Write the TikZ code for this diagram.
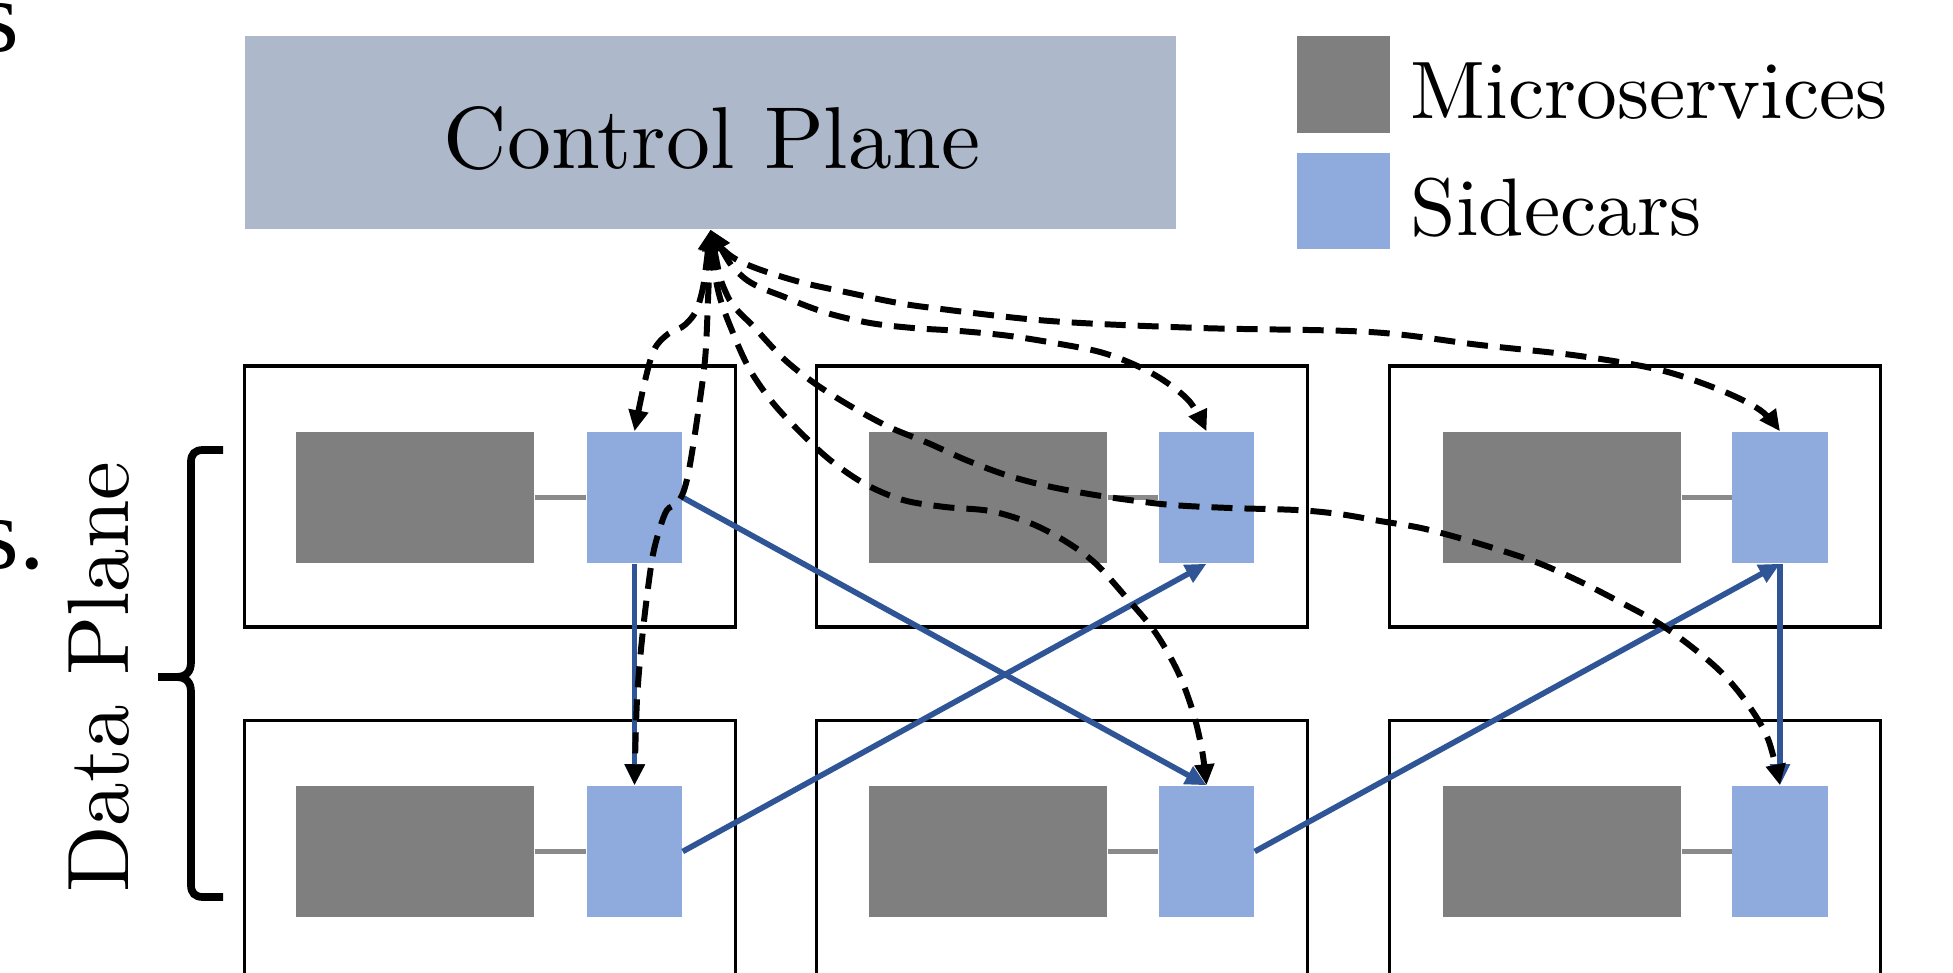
\documentclass[tikz,border=0pt]{standalone}
\usepackage{fontspec}
\setmainfont{lmroman10-regular.otf}
\newfontfamily\timesfont{Liberation Serif}
\usetikzlibrary{arrows.meta}
\definecolor{cpfill}{HTML}{ADB9CA}
\definecolor{msfill}{HTML}{7F7F7F}
\definecolor{scfill}{HTML}{8FAADC}
\definecolor{flowblue}{HTML}{2F5597}
\definecolor{linkgray}{HTML}{8A8A8A}
\begin{document}
\begin{tikzpicture}[x=0.01cm, y=-0.01cm,
  cpbox/.style={fill=cpfill, draw=none, minimum width=9.31cm, minimum height=1.93cm, inner sep=0},
  hosttop/.style={draw=black, line width=0.9pt, minimum width=4.9cm, minimum height=2.61cm, inner sep=0},
  hostbot/.style={draw=black, line width=0.9pt, minimum width=4.9cm, minimum height=4.79cm, inner sep=0},
  msbox/.style={fill=msfill, draw=none, minimum width=2.38cm, minimum height=1.31cm, inner sep=0},
  scbox/.style={fill=scfill, draw=none, minimum width=0.95cm, minimum height=1.31cm, inner sep=0},
  legms/.style={fill=msfill, draw=none, minimum width=0.93cm, minimum height=0.97cm, inner sep=0},
  legsc/.style={fill=scfill, draw=none, minimum width=0.93cm, minimum height=0.96cm, inner sep=0},
  link/.style={draw=linkgray, line width=1.4pt},
  flow/.style={draw=flowblue, line width=1.6pt, -{Triangle[length=0.21cm,width=0.19cm]}},
  ctrl/.style={draw=black, line width=1.7pt, dash pattern=on 0.21cm off 0.12cm,
     {Triangle[length=0.21cm,width=0.19cm]}-{Triangle[length=0.21cm,width=0.19cm]}},
  bracestyle/.style={draw=black, line width=2.2pt},
  cptextstyle/.style={inner sep=0, font=\fontsize{25}{30}\selectfont},
  dptextstyle/.style={inner sep=0, font=\fontsize{24.8}{30}\selectfont},
  legtext/.style={inner sep=0, anchor=base west, font=\fontsize{23.2}{28}\selectfont},
  fragtext/.style={inner sep=0, anchor=base west, font=\timesfont\fontsize{29}{34}\selectfont}
]
\useasboundingbox (0,0) rectangle (1953,973);
\fill[white] (0,0) rectangle (1953,973);
\clip (0,0) rectangle (1953,973);

% fragments of surrounding text
\node[fragtext] (fragA) at (-21,52) {s};
\node[fragtext] (fragB) at (-21,568) {s.};

% control plane
\node[cpbox] (cp) at (710.5,132.5) {};
\node[cptextstyle, anchor=base] (cptext) at (712,169) {Control Plane};
\coordinate (cpt) at (cp.south);

% legend
\node[legms] (lgms) at (1343.5,84.5) {};
\node[legsc] (lgsc) at (1343.5,201) {};
\node[legtext] (lgmstext) at (1410,119) {Microservices};
\node[legtext] (lgsctext) at (1410,236) {Sidecars};

% host boxes
\node[hosttop] (h11) at (490,496.5) {};
\node[hosttop] (h12) at (1062,496.5) {};
\node[hosttop] (h13) at (1635,496.5) {};
\node[hostbot] (h21) at (490,960.5) {};
\node[hostbot] (h22) at (1062,960.5) {};
\node[hostbot] (h23) at (1635,960.5) {};

% microservices and sidecars
\foreach \r/\yy in {1/497.5, 2/851.5}{
  \node[msbox] (m\r1) at (415,\yy) {};
  \node[msbox] (m\r2) at (988,\yy) {};
  \node[msbox] (m\r3) at (1562,\yy) {};
  \node[scbox] (s\r1) at (634.5,\yy) {};
  \node[scbox] (s\r2) at (1206.5,\yy) {};
  \node[scbox] (s\r3) at (1780,\yy) {};
}
\foreach \r in {1,2}{
  \foreach \c in {1,2,3}{
    \draw[link] (m\r\c.east) -- (s\r\c.west);
  }
}

% data plane label and brace
\node[dptextstyle, rotate=90, anchor=base] (dptext) at (129,677) {Data Plane};
\draw[bracestyle] (223,450) -- (203,450) .. controls (195,450) and (191,454) .. (191,462)
   -- (191,662) .. controls (191,672) and (186,677) .. (176,677) -- (158,677);
\draw[bracestyle] (158,677) -- (176,677) .. controls (186,677) and (191,682) .. (191,692)
   -- (191,885) .. controls (191,893) and (195,897) .. (203,897) -- (223,897);

% data flows between sidecars
\draw[flow] (s11.south) -- (s21.north);
\draw[flow] (s11.east) -- (s22.north);
\draw[flow] (s21.east) -- (s12.south);
\draw[flow] (s22.east) -- (s13.south);
\draw[flow] (s13.south) -- (s23.north);

% control connections
\draw[ctrl] plot[smooth, tension=0.55] coordinates {(cpt) (700,300) (686,324) (668,334) (654,350) (644,385) (s11.north)};
\draw[ctrl] plot[smooth, tension=0.55] coordinates {(cpt) (708,300) (705,360) (697,420) (689,470) (683,493) (676,504) (667,510) (660,528) (652,560) (643,630) (637,700) (s21.north)};
\draw[ctrl] plot[smooth, tension=0.55] coordinates {(cpt) (718,290) (733,333) (750,370) (773,403) (800,432) (830,460) (865,484) (903,500) (945,507) (990,511) (1030,523) (1065,541) (1095,563) (1125,596) (1155,632) (1178,672) (1193,712) (1202,750) (s22.north)};
\draw[ctrl] plot[smooth, tension=0.55] coordinates {(cpt) (743,277) (787,298) (827,313) (870,323) (913,328) (960,331) (1010,336) (1060,344) (1100,352) (1133,364) (1163,380) (1190,402) (s12.north)};
\draw[ctrl] plot[smooth, tension=0.55] coordinates {(cpt) (727,253) (753,267) (800,282) (850,293) (893,302) (933,308) (1050,321) (1200,328) (1370,332) (1480,345) (1580,356) (1660,370) (1720,390) (1760,410) (s13.north)};
\draw[ctrl] plot[smooth, tension=0.55] coordinates {(cpt) (727,295) (755,328) (785,360) (817,385) (852,407) (889,427) (928,443) (966,460) (1006,475) (1047,486) (1089,494) (1129,500) (1172,505) (1230,508) (1296,510) (1339,514) (1380,521) (1421,528) (1463,539) (1503,551) (1541,564) (1581,582) (1618,601) (1655,621) (1688,644) (1721,672) (1747,703) (1768,739) (s23.north)};
\end{tikzpicture}
\end{document}
